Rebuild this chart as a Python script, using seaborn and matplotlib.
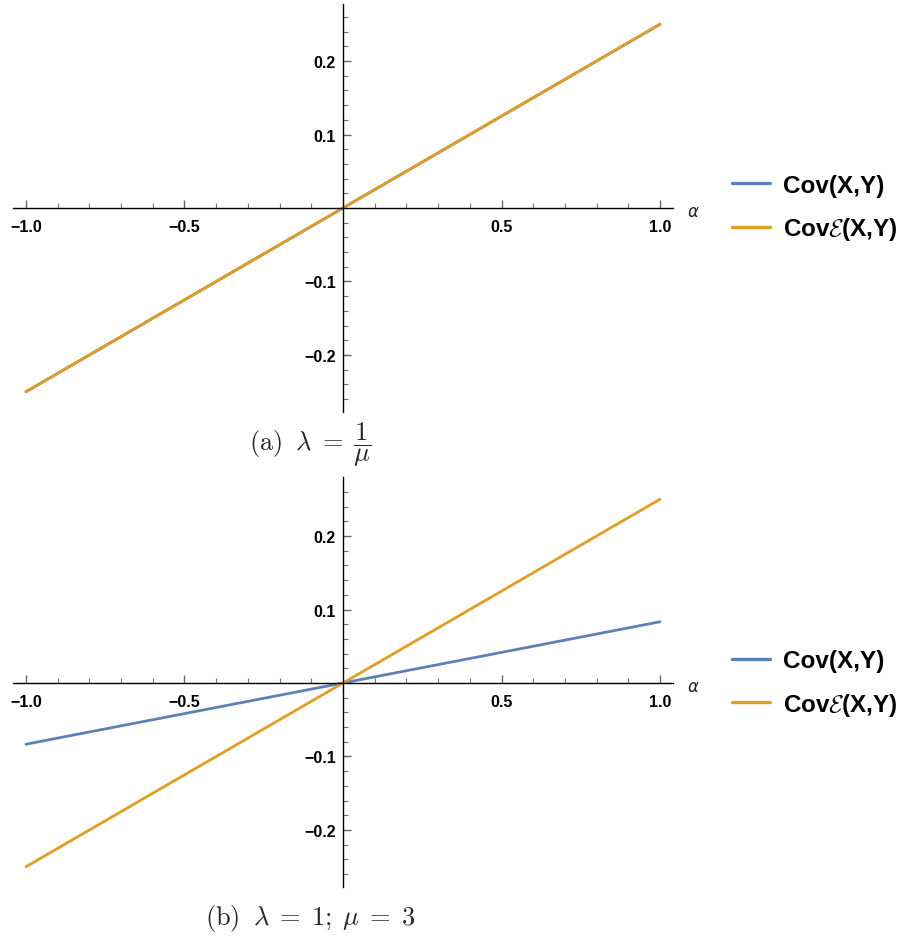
import numpy as np
import pandas as pd
import matplotlib
matplotlib.use("Agg")
import matplotlib.pyplot as plt
import seaborn as sns
from matplotlib.ticker import FixedLocator, FixedFormatter

# ---- data ----
alpha = [-1.0, 1.0]
cov_a = [-0.25, 0.25]
cove_a = [-0.25, 0.25]
cov_b = [-0.0833, 0.0833]
cove_b = [-0.25, 0.25]
series_names = ["Cov(X,Y)", r"Cov$\mathcal{E}$(X,Y)"]
x_major = [-1.0, -0.5, 0.5, 1.0]
x_major_labels = ["\u22121.0", "\u22120.5", "0.5", "1.0"]
y_major = [-0.2, -0.1, 0.1, 0.2]
y_major_labels = ["\u22120.2", "\u22120.1", "0.1", "0.2"]
captions = [r"$\mathrm{(a)}\;\;\lambda\;=\;\dfrac{1}{\mu}$",
            r"$\mathrm{(b)}\;\;\lambda\;=\;1;\;\mu\;=\;3$"]

sns.set_style("white")
plt.rcParams["font.family"] = ["Liberation Sans", "DejaVu Sans"]
plt.rcParams["mathtext.fontset"] = "cm"

BLUE = "#5E81B5"
ORANGE = "#E19C24"
W, H = 905, 945
fig = plt.figure(figsize=(W / 100, H / 100), dpi=100)

def make_df(cov, cove):
    return pd.DataFrame({
        "alpha": alpha + alpha,
        "value": cov + cove,
        "series": [series_names[0]] * len(alpha) + [series_names[1]] * len(alpha),
    })

panels = [
    dict(df=make_df(cov_a, cove_a), top=5, bottom=413, ylim=(-0.2776, 0.2776),
         leg_y=209, alpha_y=212, cap=(310, 445), caption=captions[0]),
    dict(df=make_df(cov_b, cove_b), top=478, bottom=888, ylim=(-0.2776, 0.2803),
         leg_y=684.5, alpha_y=687, cap=(310, 919), caption=captions[1]),
]

x_minor = [v for v in np.round(np.arange(-1.0, 1.01, 0.1), 2) if v not in (0.0, -1.0, -0.5, 0.5, 1.0)]
y_minor = [v for v in np.round(np.arange(-0.26, 0.261, 0.02), 2) if v not in (0.0, -0.2, -0.1, 0.1, 0.2)]

for i, p in enumerate(panels):
    left, right = 13, 673
    ax = fig.add_axes([left / W, 1 - p["bottom"] / H, (right - left) / W, (p["bottom"] - p["top"]) / H])
    sns.lineplot(data=p["df"], x="alpha", y="value", hue="series",
                 palette=[BLUE, ORANGE], linewidth=2.0, ax=ax, legend=True)
    ax.set_xlim(-1.041, 1.041)
    ax.set_ylim(*p["ylim"])
    ax.set_xlabel("")
    ax.set_ylabel("")
    for s in ["top", "right"]:
        ax.spines[s].set_visible(False)
    for s in ["left", "bottom"]:
        ax.spines[s].set_position("zero")
        ax.spines[s].set_color("black")
        ax.spines[s].set_linewidth(1.0)
    ax.xaxis.set_major_locator(FixedLocator(x_major))
    ax.xaxis.set_major_formatter(FixedFormatter(x_major_labels))
    ax.xaxis.set_minor_locator(FixedLocator(x_minor))
    ax.yaxis.set_major_locator(FixedLocator(y_major))
    ax.yaxis.set_major_formatter(FixedFormatter(y_major_labels))
    ax.yaxis.set_minor_locator(FixedLocator(y_minor))
    ax.tick_params(which="both", bottom=True, left=True, top=False, right=False)
    ax.tick_params(axis="x", which="major", direction="in", length=6, width=1.0,
                   color="0.4", pad=8, labelsize=11.5, labelcolor="black")
    ax.tick_params(axis="x", which="minor", direction="in", length=3.5, width=0.8, color="0.45")
    ax.tick_params(axis="y", which="major", direction="in", length=6, width=1.0,
                   color="0.4", pad=5, labelsize=11.5, labelcolor="black")
    ax.tick_params(axis="y", which="minor", direction="in", length=3.5, width=0.8, color="0.45")
    for lab in ax.get_xticklabels() + ax.get_yticklabels():
        lab.set_fontweight("bold")
    ax.patch.set_alpha(0)

    handles, labels = ax.get_legend_handles_labels()
    leg = ax.legend(handles, labels, loc="center left",
                    bbox_to_anchor=(732 / W, 1 - p["leg_y"] / H),
                    bbox_transform=fig.transFigure, frameon=False,
                    borderaxespad=0, borderpad=0, handlelength=1.55,
                    handletextpad=0.54, labelspacing=0.75,
                    prop={"family": ["Liberation Sans"], "weight": "bold", "size": 17.5})
    for t in leg.get_texts():
        t.set_color("black")
    for l in leg.get_lines():
        l.set_linewidth(2.4)

    fig.text(693 / W, 1 - p["alpha_y"] / H, "\u03b1", fontsize=12, style="italic",
             family=["DejaVu Sans"], ha="center", va="center")
    fig.text(p["cap"][0] / W, 1 - p["cap"][1] / H, p["caption"],
             fontsize=19, ha="center", va="center")

fig.savefig("out.png", dpi=100)
